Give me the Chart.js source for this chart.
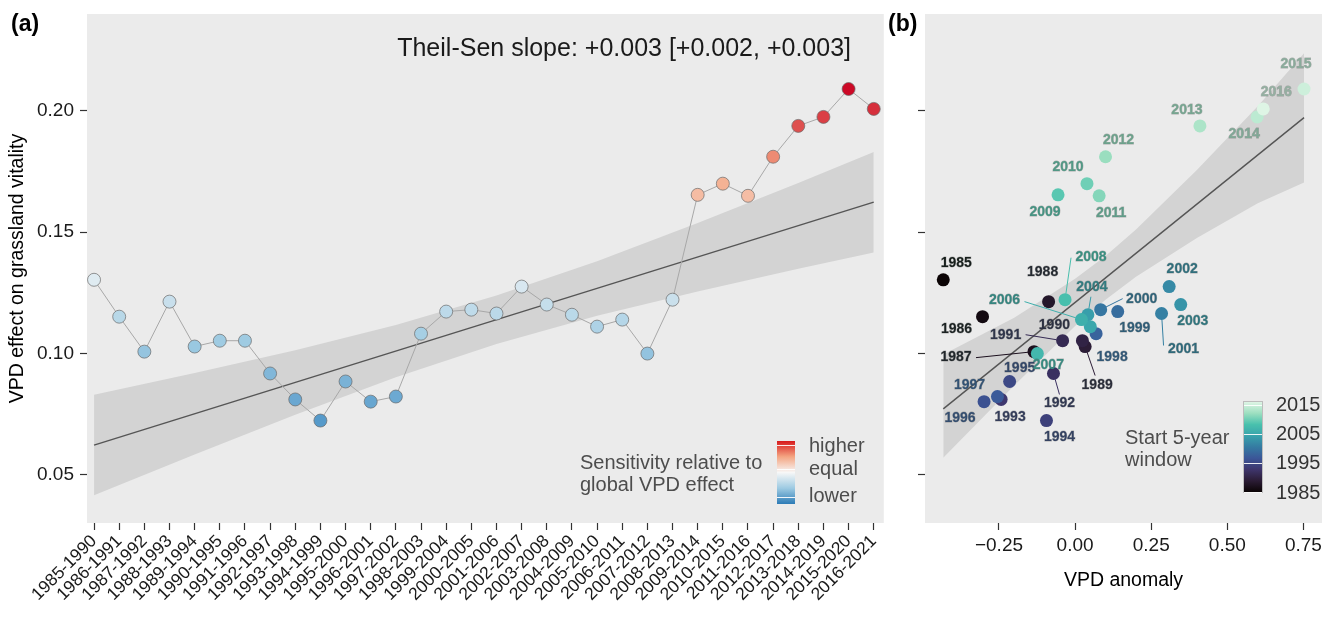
<!DOCTYPE html>
<html>
<head>
<meta charset="utf-8">
<script src="https://cdn.jsdelivr.net/npm/chart.js@4.4.0/dist/chart.umd.min.js"></script>
<style>
    html, body { margin: 0; padding: 0; background: #fff; }
    #wrap { position: relative; width: 1333px; height: 617px; }
    #chartA { position: absolute; left: 0; top: 0; }
    #chartB { position: absolute; left: 884px; top: 0; }
</style>
</head>
<body>
<div id="wrap">
    <canvas id="chartA" width="891" height="617"></canvas>
    <canvas id="chartB" width="449" height="617"></canvas>
</div>
<script>
// ─── Data ─────────────────────────────────────────────────────────────────────
const periods = ['1985-1990', '1986-1991', '1987-1992', '1988-1993', '1989-1994', '1990-1995',
                 '1991-1996', '1992-1997', '1993-1998', '1994-1999', '1995-2000', '1996-2001',
                 '1997-2002', '1998-2003', '1999-2004', '2000-2005', '2001-2006', '2002-2007',
                 '2003-2008', '2004-2009', '2005-2010', '2006-2011', '2007-2012', '2008-2013',
                 '2009-2014', '2010-2015', '2011-2016', '2012-2017', '2013-2018', '2014-2019',
                 '2015-2020', '2016-2021'];
const startYears = [1985, 1986, 1987, 1988, 1989, 1990, 1991, 1992, 1993, 1994, 1995, 1996,
                    1997, 1998, 1999, 2000, 2001, 2002, 2003, 2004, 2005, 2006, 2007, 2008,
                    2009, 2010, 2011, 2012, 2013, 2014, 2015, 2016];
const vpdEffect = [0.1304, 0.1152, 0.1008, 0.1214, 0.1029, 0.1053, 0.1053, 0.0918, 0.0811, 0.0724,
                   0.0885, 0.0802, 0.0823, 0.1082, 0.1173, 0.1181, 0.1165, 0.1276, 0.1202, 0.1160,
                   0.1111, 0.1140, 0.1000, 0.1222, 0.1654, 0.1700, 0.1650, 0.1811, 0.1938, 0.1975,
                   0.2090, 0.2008];
const vpdAnomaly = [-0.433, -0.304, -0.135, -0.087, 0.033, 0.024, -0.041, -0.071, -0.243, -0.094,
                    -0.215, -0.299, -0.255, 0.069, 0.140, 0.084, 0.284, 0.309, 0.347, 0.042,
                    0.050, 0.021, -0.124, -0.033, -0.056, 0.039, 0.079, 0.100, 0.410, 0.598,
                    0.752, 0.618];

// Theil-Sen fit and band, panel (a) (x = window index)
const trendIdxA = [0, 31];
const trendValA = [0.0623, 0.1624];
const bandIdxA = [0, 4, 8, 12, 16, 20, 24, 28, 31];
const bandUpA  = [0.0830, 0.0920, 0.1014, 0.1118, 0.1239, 0.1380, 0.1538, 0.1703, 0.1830];
const bandLoA  = [0.0416, 0.0584, 0.0748, 0.0902, 0.1039, 0.1156, 0.1256, 0.1349, 0.1416];

// fit and band, panel (b) (x = VPD anomaly)
const trendXB = [-0.433, 0.752];
const trendYB = [0.0772, 0.1972];
const bandXB  = [-0.433, -0.2, 0.0, 0.1, 0.2, 0.4, 0.6, 0.752];
const bandUpB = [0.0996, 0.1148, 0.1308, 0.1402, 0.1511, 0.1756, 0.2019, 0.2237];
const bandLoB = [0.0571, 0.0868, 0.1114, 0.1222, 0.1317, 0.1476, 0.1619, 0.1705];

const yTicks = [0.05, 0.10, 0.15, 0.20];
const xTicksB = [-0.25, 0, 0.25, 0.5, 0.75];
const legendYears = [1985, 1995, 2005, 2015];
const sensLabels = ['higher', 'equal', 'lower'];

// ─── Styling helpers ──────────────────────────────────────────────────────────
const FONT = "'Liberation Sans', Arial, Helvetica, sans-serif";
Chart.defaults.font.family = FONT;

const RDBU = [[0, '#4f95c8'], [0.25, '#9dcae2'], [0.5, '#f7f7f7'], [0.75, '#f4a582'], [1, '#ca0020']];
const RDBU_BAR = [[0, '#2c7bb6'], [0.25, '#9dcae2'], [0.5, '#f7f7f7'], [0.75, '#f4a582'], [1, '#d7191c']];
const MAKO = [[0, '#0b0405'], [0.125, '#2b1c35'], [0.25, '#3e356b'], [0.375, '#3b5698'],
              [0.5, '#357ba2'], [0.625, '#38a2ac'], [0.75, '#49c1ad'], [0.875, '#9ddfc0'], [1, '#def5e5']];

function hexRgb(h) {
    return [parseInt(h.slice(1, 3), 16), parseInt(h.slice(3, 5), 16), parseInt(h.slice(5, 7), 16)];
}
function ramp(stops, t) {
    t = Math.max(0, Math.min(1, t));
    for (let i = 1; i < stops.length; i++) {
        if (t <= stops[i][0]) {
            const f = (t - stops[i - 1][0]) / (stops[i][0] - stops[i - 1][0]);
            const a = hexRgb(stops[i - 1][1]), b = hexRgb(stops[i][1]);
            return a.map((c, k) => Math.round(c + (b[k] - c) * f));
        }
    }
    return hexRgb(stops[stops.length - 1][1]);
}
const rgb = c => 'rgb(' + c.join(',') + ')';
const sensColor = v => rgb(ramp(RDBU, 0.5 + (v - 0.14) / 0.142));
const yearT = y => (y - 1985) / (2016 - 1985);
const yearColor = y => rgb(ramp(MAKO, yearT(y)));
const yearLabelColor = y => {
    const c = ramp(MAKO, yearT(y)), d = [38, 70, 60];
    return rgb(c.map((v, k) => Math.round(v * 0.6 + d[k] * 0.4)));
};

const Y_MIN = 0.0302, Y_MAX = 0.2399;
const PANEL = '#ebebeb', BAND = '#d3d3d3', TICK = '#333';

const panelBg = {
    id: 'panelBg',
    beforeDraw(chart) {
        const a = chart.chartArea, ctx = chart.ctx;
        ctx.save();
        ctx.fillStyle = PANEL;
        ctx.fillRect(a.left, a.top, a.right - a.left, a.bottom - a.top);
        ctx.restore();
    }
};

const tickGrid = { drawOnChartArea: false, drawTicks: true, tickLength: 7, tickColor: TICK, tickWidth: 1.2 };
const setYTicks = s => { s.ticks = yTicks.map(v => ({ value: v })); };
// fixed axis box size, no extra label padding so the panels line up exactly
const fixBox = (w, h) => s => {
    if (w != null) s.width = w;
    if (h != null) s.height = h;
    s.paddingLeft = s.paddingRight = s.paddingTop = s.paddingBottom = 0;
};

function bandSets(xs, up, lo) {
    return [
        { data: xs.map((x, i) => ({ x, y: up[i] })), fill: '+1', backgroundColor: BAND,
          borderWidth: 0, pointRadius: 0, order: 10 },
        { data: xs.map((x, i) => ({ x, y: lo[i] })), fill: false,
          borderWidth: 0, pointRadius: 0, order: 10 }
    ];
}

// ─── Panel (a) ────────────────────────────────────────────────────────────────
const overlayA = {
    id: 'overlayA',
    afterDraw(chart) {
        const ctx = chart.ctx;
        ctx.save();
        ctx.fillStyle = '#000';
        ctx.font = 'bold 23px ' + FONT;
        ctx.textBaseline = 'middle';
        ctx.fillText('(a)', 11, 25);

        ctx.font = '25px ' + FONT;
        ctx.fillStyle = '#1a1a1a';
        ctx.textAlign = 'right';
        ctx.textBaseline = 'alphabetic';
        ctx.fillText('Theil-Sen slope: +0.003 [+0.002, +0.003]', 851, 56);

        // legend
        ctx.textAlign = 'left';
        ctx.textBaseline = 'middle';
        ctx.fillStyle = '#4d4d4d';
        ctx.font = '20px ' + FONT;
        ctx.fillText('Sensitivity relative to', 580, 463);
        ctx.fillText('global VPD effect', 580, 485);

        const bx = 777, bw = 18, top = 441, bot = 504;
        const g = ctx.createLinearGradient(0, bot, 0, top);
        RDBU_BAR.forEach(s => g.addColorStop(s[0], s[1]));
        ctx.fillStyle = g;
        ctx.fillRect(bx, top, bw, bot - top);
        ctx.strokeStyle = 'rgba(255,255,255,0.9)';
        ctx.lineWidth = 1;
        [445, 469, 497].forEach(y => {
            ctx.beginPath(); ctx.moveTo(bx, y + 0.5); ctx.lineTo(bx + bw, y + 0.5); ctx.stroke();
        });
        ctx.fillStyle = '#4d4d4d';
        sensLabels.forEach((t, i) => ctx.fillText(t, 809, [446, 469, 496][i]));
        ctx.restore();
    }
};

new Chart(document.getElementById('chartA'), {
    type: 'line',
    data: {
        datasets: [
            ...bandSets(bandIdxA, bandUpA, bandLoA),
            { data: trendIdxA.map((x, i) => ({ x, y: trendValA[i] })), borderColor: '#555',
              borderWidth: 1.4, pointRadius: 0, fill: false, order: 5 },
            { data: vpdEffect.map((v, i) => ({ x: i, y: v })), borderColor: '#a8a8a8', borderWidth: 1,
              pointRadius: 6.5, pointBackgroundColor: vpdEffect.map(sensColor),
              pointBorderColor: '#6a6a6a', pointBorderWidth: 0.7, fill: false, tension: 0, order: 1 }
        ]
    },
    options: {
        responsive: false,
        animation: false,
        devicePixelRatio: 1,
        events: [],
        layout: { padding: { left: 0, right: 1, top: 14, bottom: 0 } },
        plugins: { legend: { display: false }, tooltip: { enabled: false } },
        scales: {
            x: {
                type: 'linear', min: -0.28, max: 31.4,
                afterBuildTicks: s => { s.ticks = periods.map((_, i) => ({ value: i })); },
                afterFit: fixBox(null, 94),
                ticks: { autoSkip: false, minRotation: 45, maxRotation: 45, padding: 1,
                         font: { size: 17.5 }, color: '#1a1a1a', callback: v => periods[v] },
                grid: tickGrid,
                border: { display: false }
            },
            y: {
                min: Y_MIN, max: Y_MAX,
                afterBuildTicks: setYTicks,
                afterFit: fixBox(87, null),
                ticks: { padding: 6, font: { size: 19 }, color: '#1a1a1a', callback: v => v.toFixed(2) },
                grid: tickGrid,
                border: { display: false },
                title: { display: true, text: 'VPD effect on grassland vitality', color: '#000',
                         font: { size: 19.5 }, padding: { top: 6, bottom: 0 } }
            }
        }
    },
    plugins: [panelBg, overlayA]
});

// ─── Panel (b) ────────────────────────────────────────────────────────────────
// label placement (px offset of label centre from point; optional leader end offset)
const labelLayout = {
    1985: [13, -17], 1986: [-26, 12], 1987: [-78, 6, -58, 6], 1988: [-6, -29],
    1989: [12, 39, 10, 29], 1990: [-28, -16], 1991: [-57, -6, -37, -6], 1992: [6, 30, 6, 21],
    1993: [9, 18], 1994: [13, 17], 1995: [10, -13], 1996: [-24, 17], 1997: [-28, -11],
    1998: [16, 23], 1999: [17, 17], 2000: [41, -11, 22, -11], 2001: [22, 36, 2, 32],
    2002: [13, -17], 2003: [12, 17], 2004: [4, -28, 3, -18], 2006: [-77, -19, -57, -18],
    2007: [11, 12], 2008: [26, -43, 6, -42], 2009: [-13, 17], 2010: [-19, -17], 2011: [12, 17],
    2012: [13, -17], 2013: [-13, -16], 2014: [-13, 17], 2015: [-8, -25], 2016: [13, -17]
};

const overlayB = {
    id: 'overlayB',
    afterDatasetsDraw(chart) {
        const ctx = chart.ctx, sx = chart.scales.x, sy = chart.scales.y;
        ctx.save();
        ctx.font = 'bold 14px ' + FONT;
        ctx.textAlign = 'center';
        ctx.textBaseline = 'middle';
        startYears.forEach((yr, i) => {
            const lay = labelLayout[yr];
            if (!lay) return;
            const px = sx.getPixelForValue(vpdAnomaly[i]);
            const py = sy.getPixelForValue(vpdEffect[i]);
            if (lay.length > 2) {
                const d = Math.hypot(lay[2], lay[3]);
                ctx.strokeStyle = yearColor(yr);
                ctx.lineWidth = 1;
                ctx.beginPath();
                ctx.moveTo(px + lay[2] / d * 6, py + lay[3] / d * 6);
                ctx.lineTo(px + lay[2], py + lay[3]);
                ctx.stroke();
            }
            ctx.strokeStyle = 'rgba(60,60,60,0.35)';
            ctx.lineWidth = 0.8;
            ctx.strokeText(String(yr), px + lay[0], py + lay[1]);
            ctx.fillStyle = yearLabelColor(yr);
            ctx.fillText(String(yr), px + lay[0], py + lay[1]);
        });
        ctx.restore();
    },
    afterDraw(chart) {
        const ctx = chart.ctx;
        ctx.save();
        ctx.fillStyle = '#000';
        ctx.font = 'bold 23px ' + FONT;
        ctx.textBaseline = 'middle';
        ctx.fillText('(b)', 4, 25);

        // colour bar legend (page x 1244 -> canvas x 360)
        const bx = 360, bw = 18, top = 402, bot = 492;
        const g = ctx.createLinearGradient(0, bot, 0, top);
        MAKO.forEach(s => g.addColorStop(s[0], s[1]));
        ctx.fillStyle = g;
        ctx.fillRect(bx, top, bw, bot - top);
        ctx.strokeStyle = '#bdbdbd';
        ctx.lineWidth = 1;
        ctx.strokeRect(bx - 0.5, top - 0.5, bw + 1, bot - top + 1);
        ctx.font = '20px ' + FONT;
        ctx.textAlign = 'left';
        legendYears.forEach(yr => {
            const y = bot - yearT(yr) * (bot - top);
            ctx.strokeStyle = 'rgba(255,255,255,0.9)';
            ctx.beginPath(); ctx.moveTo(bx, Math.round(y) + 0.5); ctx.lineTo(bx + bw, Math.round(y) + 0.5); ctx.stroke();
            ctx.fillStyle = '#333';
            ctx.fillText(String(yr), 392, y + 1);
        });
        ctx.fillStyle = '#4d4d4d';
        ctx.fillText('Start 5-year', 241, 438);
        ctx.fillText('window', 241, 460);
        ctx.restore();
    }
};

const fmtSigned = v => (v < 0 ? '\u2212' : '') + Math.abs(v).toFixed(2);

new Chart(document.getElementById('chartB'), {
    type: 'line',
    data: {
        datasets: [
            ...bandSets(bandXB, bandUpB, bandLoB),
            { data: trendXB.map((x, i) => ({ x, y: trendYB[i] })), borderColor: '#555',
              borderWidth: 1.4, pointRadius: 0, fill: false, order: 5 },
            { data: vpdAnomaly.map((x, i) => ({ x, y: vpdEffect[i] })), showLine: false,
              pointRadius: 6.5, pointBorderWidth: 0,
              pointBackgroundColor: startYears.map(yearColor), order: 1 }
        ]
    },
    options: {
        responsive: false,
        animation: false,
        devicePixelRatio: 1,
        events: [],
        layout: { padding: { left: 0, right: 11, top: 14, bottom: 0 } },
        plugins: { legend: { display: false }, tooltip: { enabled: false } },
        scales: {
            x: {
                type: 'linear', min: -0.493, max: 0.811,
                afterBuildTicks: s => { s.ticks = xTicksB.map(v => ({ value: v })); },
                afterFit: fixBox(null, 94),
                ticks: { autoSkip: false, maxRotation: 0, padding: 4, font: { size: 19 },
                         color: '#1a1a1a', callback: fmtSigned },
                grid: tickGrid,
                border: { display: false },
                title: { display: true, text: 'VPD anomaly', color: '#000', font: { size: 19.5 },
                         padding: { top: 0, bottom: 25 } }
            },
            y: {
                min: Y_MIN, max: Y_MAX,
                afterBuildTicks: setYTicks,
                afterFit: fixBox(41, null),
                ticks: { display: false },
                grid: tickGrid,
                border: { display: false }
            }
        }
    },
    plugins: [panelBg, overlayB]
});
</script>
</body>
</html>
